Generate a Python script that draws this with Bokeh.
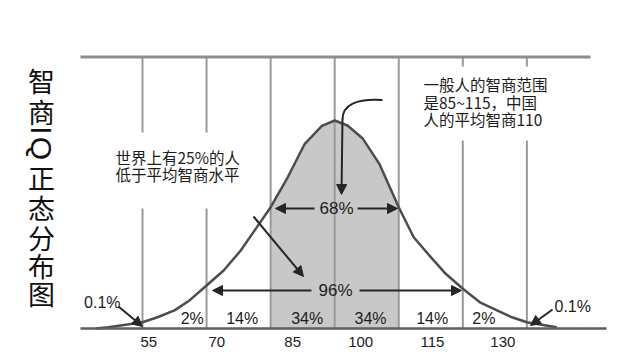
import math
from bokeh.plotting import figure
from bokeh.models import Range1d, Arrow, NormalHead
from bokeh.core.properties import value
from bokeh.embed import file_html
from bokeh.resources import INLINE

# ---------------- data ----------------
sigma_lines = [55, 70, 85, 100, 115, 130, 145]
tick_values = [55, 70, 85, 100, 115, 130]
tick_labels = ["55", "70", "85", "100", "115", "130"]
band_labels = ["2%", "14%", "34%", "34%", "14%", "2%"]
tail_label = "0.1%"
inner_label = "68%"
outer_label = "96%"
shade_from, shade_to = 85, 115

curve_iq = [44, 47, 51.5, 55, 58.5, 62.5, 66, 70, 74, 78, 81.5, 85, 89, 93, 97,
            100, 103, 106.5, 110.5, 115, 118.5, 122.5, 126, 130, 134, 138,
            141.5, 145, 149.5, 152]
curve_y = [0, 0.6, 1.9, 3.0, 5.4, 8.7, 13.5, 20.7, 27.9, 37.5, 47.9, 58.3, 72.7,
           88.8, 97.4, 100, 97.6, 91.5, 79, 58.3, 43.9, 34.3, 26.3, 19.1, 12.6,
           8.7, 5.4, 3.0, 1.4, 0.6]

title_chars = ["智", "商", "I", "Q", "正", "态", "分", "布", "图"]
note_right = ["一般人的智商范围", "是85~115，中国", "人的平均智商110"]
note_left = ["世界上有25%的人", "低于平均智商水平"]

# ---------------- layout helpers (reference pixels -> data) ----------------
def X(px):
    return 55 + (px - 142.0) / 4.271

def Y(py):
    return (328.0 - py) / 2.08

W, H = 632, 352
p = figure(width=W, height=H, output_backend="svg", toolbar_location=None,
           x_range=Range1d(X(0), X(W)), y_range=Range1d(Y(H), Y(0)),
           min_border=0, min_border_left=0, min_border_right=0,
           min_border_top=0, min_border_bottom=0)
p.axis.visible = False
p.grid.visible = False
p.outline_line_color = None
p.background_fill_color = "white"
p.border_fill_color = "white"

CJK = value("Noto Sans CJK SC")
LAT = value("Liberation Sans")
TXT = "#1c1c1c"
top_y = Y(56.6)

# shaded middle region
sx = [x for x in curve_iq if shade_from <= x <= shade_to]
sy = [y for x, y in zip(curve_iq, curve_y) if shade_from <= x <= shade_to]
p.varea(x=sx, y1=[0] * len(sx), y2=sy, fill_color="#c8c8c8")

# vertical sigma lines
p.segment(x0=sigma_lines, y0=[0] * len(sigma_lines), x1=sigma_lines,
          y1=[top_y] * len(sigma_lines), line_color="#9a9a9a", line_width=2)

# top rule
p.segment(x0=[X(80)], y0=[top_y], x1=[X(590)], y1=[top_y],
          line_color="#8e8e8e", line_width=3)

# white boxes behind the notes (hide line parts)
p.quad(left=[X(100), X(410)], right=[X(262), X(562)],
       bottom=[Y(208), Y(140)], top=[Y(132), Y(66)],
       fill_color="white", line_color=None)

# curve and baseline
p.line(curve_iq, curve_y, line_color="#4d4d4d", line_width=2.5, line_join="round")
p.segment(x0=[X(80)], y0=[0], x1=[X(606)], y1=[0],
          line_color="#5e5e5e", line_width=2.5)

# arrows
ARROW_C = "#262626"
def arrow(x0, y0, x1, y1):
    p.add_layout(Arrow(x_start=X(x0), y_start=Y(y0), x_end=X(x1), y_end=Y(y1),
                       line_color=ARROW_C, line_width=2,
                       end=NormalHead(size=10, fill_color=ARROW_C, line_color=ARROW_C)))

arrow(314, 208, 275, 208)
arrow(357, 208, 397, 208)
arrow(311, 290, 212, 290)
arrow(359, 290, 461, 290)
arrow(253, 216, 303, 276)
arrow(118, 306, 142, 326)
arrow(552, 309, 530, 325)
p.bezier(x0=[X(382)], y0=[Y(99.5)], x1=[X(342)], y1=[Y(119)],
         cx0=[X(356)], cy0=[Y(98)], cx1=[X(342)], cy1=[Y(104)],
         line_color=ARROW_C, line_width=2)
arrow(342, 118, 341, 194)

# percentage labels
p.text(x=[X(336)], y=[Y(208)], text=[inner_label], text_font=LAT,
       text_font_size="17px", text_align="center", text_baseline="middle",
       text_color=TXT)
p.text(x=[X(335)], y=[Y(290)], text=[outer_label], text_font=LAT,
       text_font_size="17px", text_align="center", text_baseline="middle",
       text_color=TXT)
band_px = [191.7, 241.7, 306.7, 370, 431.7, 483.3]
p.text(x=[X(v) for v in band_px], y=[Y(318)] * len(band_px), text=band_labels,
       text_font=LAT, text_font_size="16px", text_align="center",
       text_baseline="middle", text_color=TXT)
p.text(x=[X(120)], y=[Y(302)], text=[tail_label], text_font=LAT,
       text_font_size="16px", text_align="right", text_baseline="middle",
       text_color=TXT)
p.text(x=[X(554)], y=[Y(306)], text=[tail_label], text_font=LAT,
       text_font_size="16px", text_align="left", text_baseline="middle",
       text_color=TXT)

# tick labels (drawn slightly right of their lines, as in the source)
tick_px_offset = [6.3, 10.3, 22, 26, 33.7, 40]
tick_x = [t + o / 4.271 for t, o in zip(tick_values, tick_px_offset)]
p.text(x=tick_x, y=[Y(341.5)] * len(tick_x), text=tick_labels, text_font=LAT,
       text_font_size="15px", text_align="center", text_baseline="middle",
       text_color=TXT)

# notes
p.text(x=[X(423)] * 3, y=[Y(83.3), Y(101.5), Y(118.5)], text=note_right,
       text_font=CJK, text_font_size="15.5px", text_align="left",
       text_baseline="middle", text_color=TXT)
p.text(x=[X(115)] * 2, y=[Y(156), Y(173)], text=note_left,
       text_font=CJK, text_font_size="15.5px", text_align="left",
       text_baseline="middle", text_color=TXT)

# vertical title (Latin letters turned sideways, as in the source)
title_py = [80, 111, 130, 148, 177, 207, 237, 265, 293]
cjk_idx = [i for i, c in enumerate(title_chars) if not c.isascii()]
lat_idx = [i for i, c in enumerate(title_chars) if c.isascii()]
p.text(x=[X(41)] * len(cjk_idx), y=[Y(title_py[i]) for i in cjk_idx],
       text=[title_chars[i] for i in cjk_idx], text_font=CJK,
       text_font_size="27px", text_align="center", text_baseline="middle",
       text_color="#111111")
p.text(x=[X(41)] * len(lat_idx), y=[Y(title_py[i]) for i in lat_idx],
       text=[title_chars[i] for i in lat_idx], angle=[-math.pi / 2] * len(lat_idx),
       text_font=LAT, text_font_size="30px", text_align="center",
       text_baseline="middle", text_color="#111111")

open("out.html", "w").write(file_html(p, INLINE))
